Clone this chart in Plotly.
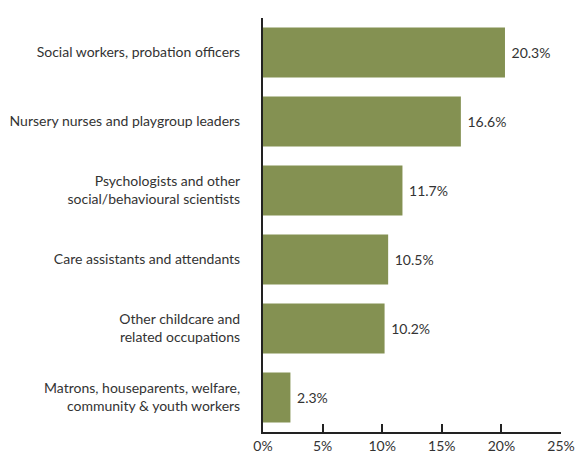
import plotly.graph_objects as go

categories = [
    "Social workers, probation officers",
    "Nursery nurses and playgroup leaders",
    "Psychologists and other<br>social/behavioural scientists",
    "Care assistants and attendants",
    "Other childcare and<br>related occupations",
    "Matrons, houseparents, welfare,<br>community & youth workers",
]
values = [20.3, 16.6, 11.7, 10.5, 10.2, 2.3]
tick_vals = [0, 5, 10, 15, 20, 25]
tick_text = ["0%", "5%", "10%", "15%", "20%", "25%"]

fig = go.Figure()
fig.add_trace(go.Bar(
    x=values, y=categories, orientation="h",
    marker=dict(color="#849152", line=dict(width=0)),
    text=[" " + f"{v:.1f}%" for v in values],
    textposition="outside", cliponaxis=False,
    textfont=dict(color="#333333", size=14),
))

fig.update_layout(
    width=575, height=454,
    margin=dict(l=263, r=14, t=18, b=22),
    plot_bgcolor="white", paper_bgcolor="white",
    font=dict(family="Lato", size=14, color="#333333"),
    bargap=0.275, showlegend=False,
)
fig.update_xaxes(
    range=[0, 25], tickvals=tick_vals, ticktext=tick_text,
    showgrid=False, zeroline=False, automargin=False,
    showline=True, linecolor="#222222", linewidth=2,
    ticks="inside", ticklen=8, tickwidth=1.5, tickcolor="#222222",
)
fig.update_yaxes(
    autorange="reversed", showgrid=False, zeroline=False, automargin=False,
    showline=True, linecolor="#222222", linewidth=2,
    ticks="", ticklabelstandoff=18,
)

# page body has a default 8px margin, drop it so the chart fills the window
fig.write_html("out.html", config={"displayModeBar": False},
               post_script="document.body.style.margin='0';")
